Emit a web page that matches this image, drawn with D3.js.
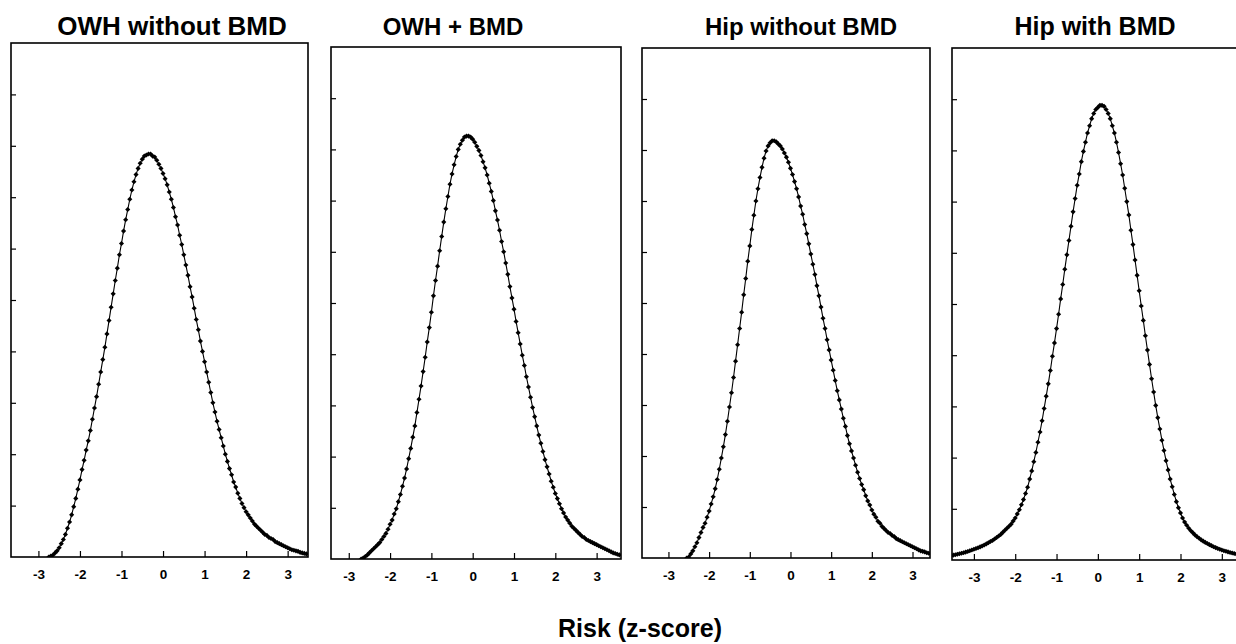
<!DOCTYPE html>
<html>
<head>
<meta charset="utf-8">
<script src="https://cdn.jsdelivr.net/npm/d3@7"></script>
<style>
  body { margin: 0; background: #ffffff; }
  #visualisationDiv { width: 1236px; height: 644px; }
  text { font-family: "Liberation Sans", Arial, sans-serif; font-weight: bold; fill: #000; }
</style>
</head>
<body>
<div id="visualisationDiv"></div>
<script>
// data
var panelTitles = ["OWH without BMD", "OWH + BMD", "Hip without BMD", "Hip with BMD"];
var xTickValues = [-3, -2, -1, 0, 1, 2, 3];
var xTickLabels = ["-3", "-2", "-1", "0", "1", "2", "3"];
var yTickValues = [0.05, 0.10, 0.15, 0.20, 0.25, 0.30, 0.35, 0.40, 0.45];
var axisTitle = "Risk (z-score)";

// every curve is sampled every 0.05 z, starting at these z values
var zStep = 0.05;
var zStarts = [-2.75, -2.70, -2.55, -3.50];

var owhNoBmd = [
  0.000,0.001,0.002,0.004,0.006,0.009,0.013,0.017,0.022,0.028,0.034,0.041,0.049,0.057,0.066,0.075,0.085,
  0.094,0.104,0.113,0.123,0.134,0.145,0.156,0.168,0.180,0.192,0.204,0.217,0.230,0.243,0.256,0.269,0.281,
  0.294,0.305,0.317,0.328,0.338,0.348,0.357,0.365,0.372,0.378,0.383,0.387,0.390,0.391,0.392,
  0.392,0.390,0.389,0.386,0.382,0.378,0.373,0.368,0.362,0.355,0.348,0.340,0.331,0.323,0.313,0.304,
  0.294,0.284,0.274,0.263,0.253,0.242,0.231,0.221,0.210,0.200,0.190,0.180,0.170,0.160,0.150,
  0.141,0.132,0.124,0.116,0.108,0.100,0.093,0.086,0.080,0.073,0.068,0.062,0.057,0.052,0.048,0.044,
  0.041,0.038,0.035,0.032,0.030,0.028,0.026,0.024,0.022,0.021,0.019,0.018,0.017,0.015,0.014,0.013,
  0.012,0.011,0.010,0.009,0.008,0.007,0.0065,0.006,0.0055,0.0045,0.004,0.0035,0.003
];

var owhBmd = [
  0.000,0.001,0.0025,0.004,0.006,0.008,0.010,0.012,0.014,0.016,0.019,0.022,0.025,0.029,0.034,
  0.038,0.044,0.049,0.056,0.063,0.071,0.079,0.088,0.098,0.108,0.119,0.130,0.143,0.156,0.169,0.183,
  0.197,0.212,0.226,0.241,0.257,0.272,0.286,0.301,0.315,0.329,0.342,0.354,0.366,0.376,0.385,0.393,
  0.400,0.405,0.409,0.412,0.413,
  0.413,0.412,0.410,0.407,0.403,0.399,0.394,0.388,0.382,0.375,0.367,0.359,0.350,0.340,0.331,0.321,
  0.310,0.300,0.289,0.278,0.266,0.255,0.244,0.232,0.221,0.210,0.199,0.189,0.178,0.168,0.158,0.148,
  0.139,0.130,0.121,0.113,0.105,0.097,0.090,0.083,0.076,0.070,0.064,0.059,0.054,0.049,0.045,0.041,
  0.038,0.035,0.032,0.030,0.028,0.026,0.024,0.022,0.021,0.019,0.018,0.017,0.016,0.015,0.014,0.013,
  0.012,0.011,0.010,0.009,0.008,0.007,0.006,0.0053,0.0046,0.004
];

var hipNoBmd = [
  0.000,0.001,0.004,0.007,0.011,0.015,0.020,0.025,0.030,0.034,0.040,0.046,
  0.053,0.060,0.068,0.077,0.087,0.098,0.109,0.121,0.134,0.148,0.162,0.177,0.193,0.209,0.225,0.241,
  0.258,0.274,0.291,0.306,0.322,0.336,0.350,0.362,0.373,0.383,0.392,0.399,0.404,0.407,0.409,
  0.409,0.408,0.406,0.404,0.401,0.397,0.393,0.388,0.382,0.376,0.369,0.362,0.354,0.345,0.337,0.327,
  0.318,0.308,0.298,0.288,0.278,0.267,0.257,0.246,0.235,0.225,0.214,0.204,0.194,0.184,0.174,0.164,
  0.155,0.146,0.137,0.129,0.120,0.112,0.105,0.098,0.091,0.084,0.078,0.072,0.067,0.061,0.056,0.052,
  0.047,0.043,0.040,0.036,0.034,0.031,0.029,0.027,0.025,0.024,0.022,0.021,0.019,0.018,0.017,0.016,
  0.015,0.014,0.013,0.012,0.011,0.010,0.009,0.008,0.007,0.0065,0.006,0.0052,0.0047
];

var hipBmd = [
  0.0048,0.0052,0.0056,0.0061,0.0066,0.0071,0.0077,0.0083,0.0090,0.0097,0.0105,0.0112,0.0120,0.0128,
  0.0137,0.0147,0.0157,0.0168,0.018,0.019,0.0205,0.022,0.0235,0.025,0.027,0.029,0.031,0.033,0.035,
  0.038,0.041,0.045,0.049,0.054,0.059,0.065,0.071,0.079,0.087,0.096,0.105,0.115,0.125,0.136,0.148,
  0.160,0.172,0.185,0.199,0.212,0.226,0.240,0.255,0.269,0.284,0.298,0.312,0.326,0.340,0.353,0.366,
  0.377,0.389,0.399,0.408,0.417,0.424,0.431,0.436,0.440,0.442,0.444,
  0.444,0.443,0.440,0.436,0.431,0.424,0.417,0.408,0.398,0.387,0.376,0.363,0.350,0.337,0.322,0.308,
  0.293,0.278,0.263,0.248,0.234,0.219,0.205,0.191,0.177,0.164,0.151,0.139,0.128,0.117,0.107,0.097,
  0.088,0.079,0.0715,0.064,0.057,0.051,0.046,0.041,0.037,0.034,0.031,0.0285,0.0265,0.0245,0.0228,
  0.0212,0.0197,0.0184,0.0172,0.0161,0.015,0.014,0.013,0.0121,0.0113,0.0105,0.0098,0.0091,0.0085,
  0.0079,0.0073,0.0068,0.0063,0.0059
];

var panelSeries = [owhNoBmd, owhBmd, hipNoBmd, hipBmd];

// where each panel box sits on the page (scanned figure, so they differ a little)
var panelLayout = [
  { left: 11,  right: 308,  top: 43, bottom: 557, zMin: -3.66, zMax: 3.49, titleX: 172, titleSize: 26 },
  { left: 331, right: 621,  top: 47, bottom: 559, zMin: -3.43, zMax: 3.59, titleX: 453, titleSize: 24 },
  { left: 642, right: 930,  top: 48, bottom: 558, zMin: -3.65, zMax: 3.43, titleX: 801, titleSize: 24 },
  { left: 952, right: 1240, top: 48, bottom: 560, zMin: -3.53, zMax: 3.44, titleX: 1095, titleSize: 25 }
];

function makeVisualisation() {
  var width = 1236, height = 644;

  var svg = d3.select("#visualisationDiv").append("svg")
    .attr("width", width)
    .attr("height", height);

  svg.append("rect")
    .attr("width", width)
    .attr("height", height)
    .attr("fill", "white");

  panelLayout.forEach(function(box, p) {
    var values = panelSeries[p];
    var points = values.map(function(v, i) {
      return { z: zStarts[p] + i * zStep, y: v };
    });

    var x = d3.scaleLinear().domain([box.zMin, box.zMax]).range([box.left, box.right]);
    var y = d3.scaleLinear().domain([0, 0.5]).range([box.bottom, box.top]);

    var g = svg.append("g");

    svg.append("clipPath")
      .attr("id", "clip" + p)
      .append("rect")
        .attr("x", box.left)
        .attr("y", box.top)
        .attr("width", box.right - box.left)
        .attr("height", box.bottom - box.top);

    // y ticks, inward, no labels
    g.append("g")
      .attr("transform", "translate(" + box.left + ",0)")
      .call(d3.axisLeft(y).tickValues(yTickValues).tickSizeInner(-5).tickSizeOuter(0).tickFormat(""))
      .call(function(a) { a.select(".domain").remove(); })
      .selectAll("line").attr("stroke", "#000").attr("stroke-width", 1.2);

    // x ticks, inward, with labels below
    var xAxis = g.append("g")
      .attr("transform", "translate(0," + box.bottom + ")")
      .call(d3.axisBottom(x).tickValues(xTickValues).tickSizeInner(-6).tickSizeOuter(0)
        .tickPadding(12)
        .tickFormat(function(d, i) { return xTickLabels[i]; }));
    xAxis.select(".domain").remove();
    xAxis.selectAll("line").attr("stroke", "#000").attr("stroke-width", 1.2);
    xAxis.selectAll("text")
      .attr("font-family", "Liberation Sans, Arial, sans-serif")
      .attr("font-weight", "bold")
      .attr("font-size", 13.5)
      .attr("fill", "#000");

    // panel frame
    g.append("rect")
      .attr("x", box.left)
      .attr("y", box.top)
      .attr("width", box.right - box.left)
      .attr("height", box.bottom - box.top)
      .attr("fill", "none")
      .attr("stroke", "#000")
      .attr("stroke-width", 1.6);

    var curve = g.append("g").attr("clip-path", "url(#clip" + p + ")");

    curve.append("path")
      .datum(points)
      .attr("fill", "none")
      .attr("stroke", "#000")
      .attr("stroke-width", 1.1)
      .attr("d", d3.line()
        .x(function(d) { return x(d.z); })
        .y(function(d) { return y(d.y); }));

    // small diamond markers at every sample
    curve.selectAll("path.marker")
      .data(points)
      .enter()
      .append("path")
        .attr("class", "marker")
        .attr("transform", function(d) {
          return "translate(" + x(d.z) + "," + y(d.y) + ") rotate(45)";
        })
        .attr("d", d3.symbol().type(d3.symbolSquare).size(13))
        .attr("fill", "#000");

    svg.append("text")
      .attr("x", box.titleX)
      .attr("y", 35)
      .attr("text-anchor", "middle")
      .attr("font-size", box.titleSize)
      .text(panelTitles[p]);
  });

  svg.append("text")
    .attr("x", 640)
    .attr("y", 637)
    .attr("text-anchor", "middle")
    .attr("font-size", 25)
    .text(axisTitle);
}

makeVisualisation();
</script>
</body>
</html>
